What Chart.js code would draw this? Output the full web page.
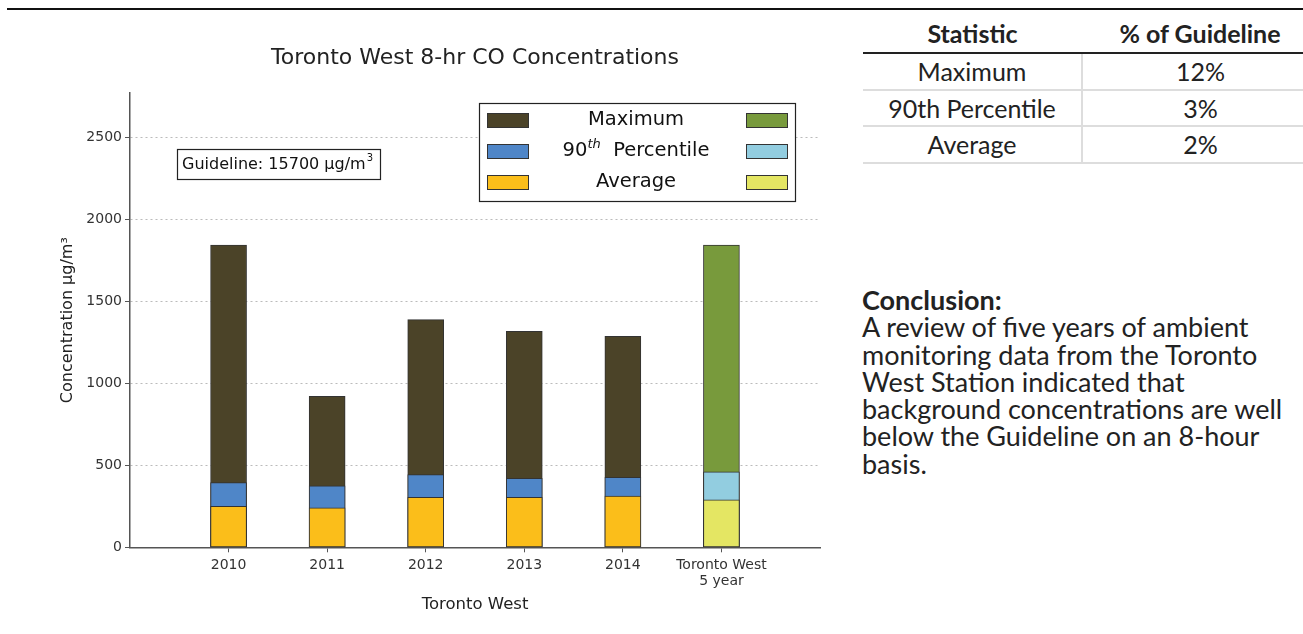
<!DOCTYPE html>
<html>
<head>
<meta charset="utf-8">
<script src="https://cdn.jsdelivr.net/npm/chart.js@4/dist/chart.umd.min.js"></script>
<style>
  html, body { margin: 0; padding: 0; background: #fff; }
  body { width: 1303px; height: 634px; position: relative; overflow: hidden; }
  .rule { position: absolute; left: 7px; right: 0; top: 8px; height: 2px; background: #111; }
  #wrap { position: absolute; left: 0; top: 0; width: 840px; height: 634px; }
  table.stats {
    position: absolute; left: 863px; top: 14px; width: 455px;
    border-collapse: collapse; font-family: Lato, "Open Sans", sans-serif;
    font-size: 25px; color: #222;
  }
  table.stats th, table.stats td { text-align: center; padding: 0; white-space: nowrap; }
  table.stats th { font-weight: bold; height: 38px; border-bottom: 2px solid #222; }
  table.stats td { height: 34.5px; border-bottom: 2px solid #ddd; }
  table.stats td:first-child { border-right: 2px solid #ddd; width: 218px; }
  .concl {
    position: absolute; left: 862px; top: 286px;
    font-family: Lato, "Open Sans", sans-serif; font-size: 27px;
    line-height: 27.3px; color: #222; white-space: nowrap;
  }
  .concl b { font-weight: bold; }
</style>
</head>
<body>
<div class="rule"></div>
<div id="wrap"><canvas id="chart"></canvas></div>

<table class="stats">
  <tr><th>Statistic</th><th>% of Guideline</th></tr>
  <tr><td>Maximum</td><td>12%</td></tr>
  <tr><td>90th Percentile</td><td>3%</td></tr>
  <tr><td>Average</td><td>2%</td></tr>
</table>

<div class="concl">
  <b>Conclusion:</b><br>
  A review of five years of ambient<br>
  monitoring data from the Toronto<br>
  West Station indicated that<br>
  background concentrations are well<br>
  below the Guideline on an 8-hour<br>
  basis.
</div>

<script>
// station years + 5-year summary, values in µg/m³
const categories = ['2010', '2011', '2012', '2013', '2014', ['Toronto West', '5 year']];
const maximum      = [1843, 920, 1388, 1317, 1287, 1843];
const percentile90 = [395, 375, 443, 420, 427, 460];
const average      = [250, 240, 305, 305, 312, 290];
const yTicks = [0, 500, 1000, 1500, 2000, 2500];
const TITLE = 'Toronto West 8-hr CO Concentrations';

const MAX_COLOR  = '#4b4328', MAX_5YR  = '#789a3c';
const P90_COLOR  = '#4f86c8', P90_5YR  = '#92cde0';
const AVG_COLOR  = '#fbbe1a', AVG_5YR  = '#e4e663';
const EDGE = '#333';
const FONT = '"DejaVu Sans", Verdana, sans-serif';

const summaryIdx = categories.length - 1;
const colorsFor = (base, summary) => categories.map((_, i) => i === summaryIdx ? summary : base);
const points = vals => vals.map((v, i) => ({ x: i + 1, y: v }));

function barSet(label, vals, base, summary) {
  return {
    label, data: points(vals),
    backgroundColor: colorsFor(base, summary),
    borderColor: EDGE, borderWidth: 1, borderSkipped: false,
    barThickness: 36, grouped: false,
  };
}

// title centred on the axes, legend box + guideline note inside the plot (matplotlib style)
const overlay = {
  id: 'overlay',
  afterDraw(chart) {
    const { ctx, chartArea: a } = chart;
    ctx.save();
    ctx.textBaseline = 'middle';

    ctx.fillStyle = '#222';
    ctx.font = '22px ' + FONT;
    ctx.textAlign = 'center';
    ctx.fillText(TITLE, (a.left + a.right) / 2, a.top - 35);

    // guideline note
    const gx = a.left + 47, gy = a.top + 56;
    ctx.fillStyle = '#fff';
    ctx.fillRect(gx, gy, 203, 30);
    ctx.strokeStyle = '#222'; ctx.lineWidth = 1.2;
    ctx.strokeRect(gx + 0.5, gy + 0.5, 203, 30);
    ctx.fillStyle = '#111';
    ctx.font = '16px ' + FONT;
    ctx.textAlign = 'left';
    const gtxt = 'Guideline: 15700 µg/m';
    ctx.fillText(gtxt, gx + 5, gy + 16);
    const gw = ctx.measureText(gtxt).width;
    ctx.font = '10px ' + FONT;
    ctx.fillText('3', gx + 5 + gw + 1, gy + 9);

    // legend
    const lx = a.right - 341, ly = a.top + 10, lw = 316, lh = 98;
    ctx.fillStyle = '#fff';
    ctx.fillRect(lx, ly, lw, lh);
    ctx.strokeStyle = '#222'; ctx.lineWidth = 1.2;
    ctx.strokeRect(lx + 0.5, ly + 0.5, lw, lh);
    const rows = [
      ['Maximum', MAX_COLOR, MAX_5YR],
      ['90th Percentile', P90_COLOR, P90_5YR],
      ['Average', AVG_COLOR, AVG_5YR],
    ];
    const midX = lx + 157;
    const LF = '19.5px ' + FONT, SF = 'italic 13px ' + FONT;
    rows.forEach(([label, c1, c2], r) => {
      const cy = ly + 17 + r * 31;
      [[lx + 8, c1], [lx + 267, c2]].forEach(([sx, col]) => {
        ctx.fillStyle = col;
        ctx.fillRect(sx, cy - 7, 41, 14);
        ctx.strokeStyle = EDGE; ctx.lineWidth = 1;
        ctx.strokeRect(sx + 0.5, cy - 6.5, 41, 14);
      });
      ctx.fillStyle = '#111';
      ctx.font = LF;
      if (label.startsWith('90th')) {
        const a1 = '90', sup = 'th', rest = '  Percentile';
        const w1 = ctx.measureText(a1).width;
        ctx.font = SF;
        const w2 = ctx.measureText(sup).width;
        ctx.font = LF;
        const w3 = ctx.measureText(rest).width;
        let x = midX - (w1 + w2 + w3) / 2;
        ctx.textAlign = 'left';
        ctx.fillText(a1, x, cy); x += w1;
        ctx.font = SF;
        ctx.fillText(sup, x, cy - 6); x += w2;
        ctx.font = LF;
        ctx.fillText(rest, x, cy);
      } else {
        ctx.textAlign = 'center';
        ctx.fillText(label, midX, cy);
      }
    });
    ctx.restore();
  }
};

new Chart(document.getElementById('chart'), {
  type: 'bar',
  data: {
    datasets: [
      barSet('Average', average, AVG_COLOR, AVG_5YR),
      barSet('90th Percentile', percentile90, P90_COLOR, P90_5YR),
      barSet('Maximum', maximum, MAX_COLOR, MAX_5YR),
    ]
  },
  options: {
    responsive: true, maintainAspectRatio: false, animation: false,
    layout: { padding: { top: 93, left: 58, right: 20, bottom: 21 } },
    plugins: {
      legend: { display: false },
      tooltip: { enabled: false },
      title: { display: false },
    },
    scales: {
      x: {
        type: 'linear', min: 0, max: categories.length + 1,
        offset: false,
        afterBuildTicks: s => { s.ticks = categories.map((_, i) => ({ value: i })).concat([{ value: categories.length }, { value: categories.length + 1 }]); },
        ticks: {
          stepSize: 1, autoSkip: false, maxRotation: 0, padding: 5,
          color: '#333', font: { family: FONT, size: 14, lineHeight: 1.15 },
          callback: v => (v >= 1 && v <= categories.length) ? categories[v - 1] : '',
        },
        grid: {
          offset: false, drawOnChartArea: false, tickLength: 5,
          tickColor: c => (c.tick && c.tick.value >= 1 && c.tick.value <= categories.length) ? '#555' : 'rgba(0,0,0,0)',
        },
        border: { color: '#555', width: 1.5 },
        title: {
          display: true, text: 'Toronto West', color: '#222',
          font: { family: FONT, size: 16.5, lineHeight: 1 }, padding: { top: 2, bottom: 0 },
        },
      },
      y: {
        min: 0, max: 2770,
        afterBuildTicks: s => { s.ticks = yTicks.map(v => ({ value: v })); },
        afterFit: s => { s.width = 72; },
        ticks: { color: '#333', font: { family: FONT, size: 14 }, padding: 3, callback: v => String(v) },
        grid: {
          tickLength: 5, lineWidth: 1,
          color: c => (c.tick && c.tick.value === 0) ? 'rgba(0,0,0,0)' : '#bbb',
          tickColor: '#555',
        },
        border: { color: '#555', width: 1.5, dash: [2, 3] },
        title: {
          display: true, text: 'Concentration µg/m³', color: '#222',
          font: { family: FONT, size: 16 }, padding: { top: 0, bottom: 4 },
        },
      },
    },
  },
  plugins: [overlay],
});
</script>
</body>
</html>
